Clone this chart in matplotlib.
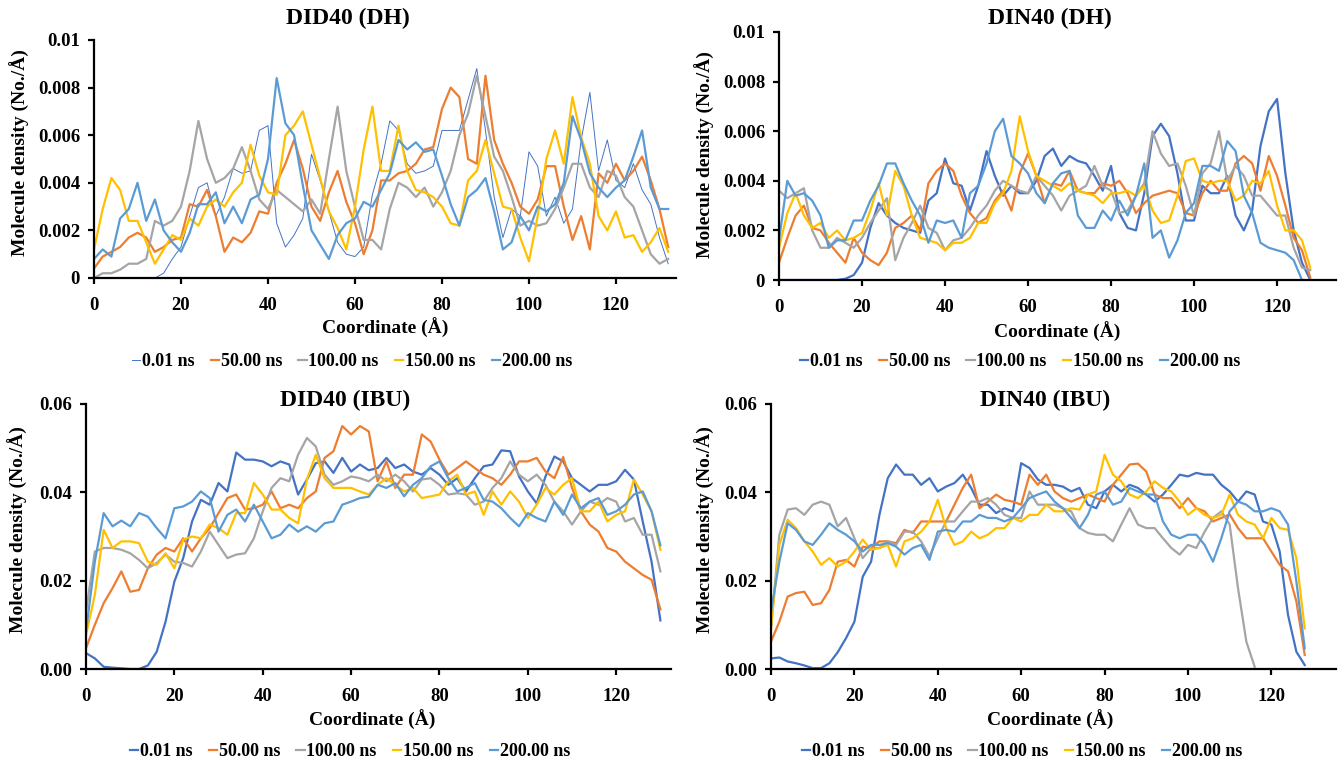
import numpy as np
import matplotlib
matplotlib.use("Agg")
from matplotlib import pyplot as plt

W, H = 1338, 764

# series names and Excel-like colours
SERIES = ["0.01 ns", "50.00 ns", "100.00 ns", "150.00 ns", "200.00 ns"]
COLORS = ["#4472C4", "#ED7D31", "#A5A5A5", "#FFC000", "#5B9BD5"]
STEP = 2  # coordinate spacing (Å) of the tabulated values

# DID40 (DH), values in 1e-3 No./Å, coordinate 0..132
did_dh_001 = [0, 0, 0, 0, 0, 0, 0, 0, 0.2, 0.8, 1.3, 2.6, 3.8, 4.0, 2.6, 3.4, 4.6, 4.4, 4.5, 6.2,
              6.4, 2.3, 1.3, 1.8, 2.5, 5.2, 4.1, 2.8, 1.5, 1.0, 0.9, 1.3, 3.5, 4.8, 6.6, 6.2, 4.8,
              4.4, 4.5, 4.7, 6.2, 6.2, 6.2, 7.5, 8.8, 6.2, 3.4, 1.7, 2.9, 2.6, 5.3, 4.7, 2.6, 3.4,
              2.3, 2.9, 5.8, 7.8, 4.5, 5.8, 4.1, 3.8, 4.8, 3.7, 3.1, 1.7, 0.6]
did_dh_050 = [0.4, 0.9, 1.1, 1.3, 1.7, 1.9, 1.7, 1.1, 1.3, 1.6, 1.7, 3.1, 3.0, 3.7, 2.6, 1.1, 1.7,
              1.5, 1.9, 2.8, 2.7, 4.0, 4.8, 5.8, 4.6, 3.0, 2.4, 3.6, 4.5, 3.2, 2.3, 1.0, 2.0, 4.1,
              4.1, 4.4, 4.5, 4.8, 5.4, 5.5, 7.1, 8.0, 7.6, 5.0, 4.8, 8.5, 5.8, 4.8, 4.0, 3.0, 2.7,
              3.3, 4.7, 4.7, 3.0, 1.6, 2.6, 1.2, 4.4, 4.0, 4.8, 4.1, 4.5, 5.1, 4.1, 2.9, 1.3]
did_dh_100 = [0.0, 0.2, 0.2, 0.35, 0.6, 0.6, 0.8, 2.4, 2.2, 2.4, 3.0, 4.5, 6.6, 5.0, 4.0, 4.2, 4.6,
              5.5, 4.5, 3.3, 2.9, 3.7, 3.4, 3.1, 2.8, 3.3, 2.7, 5.0, 7.2, 4.5, 3.0, 1.6, 1.6, 1.2,
              2.9, 4.0, 3.8, 3.4, 3.8, 3.0, 3.6, 4.5, 6.0, 6.9, 8.5, 6.8, 5.1, 4.5, 3.4, 2.2, 2.4,
              2.2, 2.3, 2.9, 3.8, 4.8, 4.8, 3.8, 3.4, 4.5, 4.3, 3.4, 3.0, 2.0, 1.0, 0.6, 0.8]
did_dh_150 = [1.2, 2.9, 4.2, 3.7, 2.4, 2.4, 1.5, 0.6, 1.2, 1.8, 1.6, 2.5, 2.2, 3.0, 3.3, 3.0, 3.6,
              4.0, 5.6, 4.3, 3.6, 3.5, 6.0, 6.4, 7.0, 5.6, 4.2, 2.8, 2.1, 1.2, 3.0, 5.4, 7.2, 4.5,
              4.5, 6.4, 4.5, 3.7, 3.6, 3.4, 3.0, 2.3, 2.2, 4.1, 4.5, 5.8, 4.4, 3.0, 2.9, 1.7, 0.7,
              2.6, 5.0, 6.2, 4.8, 7.6, 5.9, 4.8, 2.6, 2.0, 2.8, 1.7, 1.8, 1.1, 1.5, 2.1, 1.1]
did_dh_200 = [0.8, 1.2, 0.9, 2.5, 2.9, 4.0, 2.4, 3.3, 2.0, 1.5, 1.1, 1.9, 3.1, 3.1, 3.6, 2.3, 3.0,
              2.3, 3.3, 3.5, 5.0, 8.4, 6.5, 6.0, 3.9, 2.0, 1.4, 0.8, 1.8, 2.3, 2.5, 3.2, 3.0, 3.7,
              4.4, 5.8, 5.4, 5.7, 5.3, 5.4, 4.3, 3.1, 2.2, 3.4, 3.7, 4.2, 2.8, 1.2, 1.5, 2.6, 2.0,
              3.0, 2.8, 3.1, 4.0, 6.8, 5.8, 4.4, 3.8, 3.4, 3.8, 4.1, 5.1, 6.2, 3.8, 2.9, 2.9]

# DIN40 (DH), values in 1e-3 No./Å, coordinate 0..128
din_dh_001 = [0, 0, 0, 0, 0, 0, 0, 0, 0.05, 0.2, 0.7, 2.1, 3.1, 2.6, 2.3, 2.1, 2.0, 1.9, 3.2, 3.5,
              4.9, 3.9, 3.8, 2.8, 3.8, 5.2, 4.2, 3.4, 3.8, 3.5, 3.5, 4.0, 5.0, 5.3, 4.6, 5.0, 4.8,
              4.7, 4.2, 3.6, 4.6, 2.7, 2.1, 2.0, 3.5, 5.8, 6.3, 5.8, 4.3, 2.4, 2.4, 3.8, 3.5, 3.5,
              4.2, 2.6, 2.0, 2.8, 5.4, 6.8, 7.3, 4.3, 2.0, 0.7, 0.0]
din_dh_050 = [0.7, 1.7, 2.6, 3.0, 2.1, 2.0, 1.5, 1.1, 0.7, 1.7, 1.1, 0.8, 0.6, 1.1, 2.1, 2.3, 2.6,
              2.0, 3.9, 4.4, 4.7, 4.4, 3.4, 2.7, 2.3, 2.5, 3.2, 3.6, 2.8, 4.3, 5.1, 4.2, 3.1, 3.9,
              3.8, 4.4, 3.6, 3.5, 3.5, 3.9, 3.8, 4.0, 3.5, 2.7, 3.1, 3.4, 3.5, 3.6, 3.5, 2.7, 2.6,
              3.5, 4.0, 3.6, 3.6, 4.7, 5.0, 4.7, 3.6, 5.0, 4.2, 3.0, 1.7, 1.2, 0.1]
din_dh_100 = [3.6, 3.3, 3.5, 3.7, 2.0, 1.3, 1.3, 1.7, 1.5, 1.3, 1.7, 2.3, 2.8, 3.3, 0.8, 1.7, 2.3,
              3.0, 2.1, 1.9, 1.2, 1.6, 1.7, 2.1, 2.6, 3.0, 3.6, 4.0, 3.8, 3.6, 3.5, 4.2, 3.8, 3.4,
              2.8, 3.4, 3.6, 3.8, 4.6, 3.8, 3.6, 2.7, 2.8, 3.4, 3.9, 6.0, 5.1, 4.6, 4.7, 3.8, 2.6,
              4.3, 4.7, 6.0, 4.0, 4.6, 4.2, 3.4, 3.4, 3.0, 2.6, 2.6, 1.3, 0.5, 0.4]
din_dh_150 = [1.3, 2.7, 3.5, 2.6, 2.1, 2.3, 1.7, 2.0, 1.6, 1.7, 1.9, 2.8, 3.9, 2.6, 4.4, 3.8, 2.6,
              1.7, 1.6, 1.5, 1.2, 1.5, 1.5, 1.7, 2.3, 2.3, 3.1, 3.5, 4.4, 6.6, 5.2, 4.2, 4.0, 3.8,
              3.6, 3.9, 3.6, 3.5, 3.4, 3.1, 3.5, 3.5, 3.6, 3.4, 3.8, 2.8, 2.3, 2.4, 3.4, 4.8, 4.9,
              4.0, 3.9, 4.0, 4.0, 3.2, 3.4, 4.0, 3.9, 4.4, 3.0, 2.0, 2.0, 1.6, 0.5]
din_dh_200 = [1.6, 4.0, 3.4, 3.5, 3.2, 2.6, 1.3, 1.6, 1.6, 2.4, 2.4, 3.2, 3.8, 4.7, 4.7, 3.9, 3.2,
              2.6, 1.5, 2.4, 2.3, 2.4, 1.7, 3.5, 3.8, 4.7, 6.0, 6.5, 5.0, 4.7, 4.3, 3.5, 3.1, 3.9,
              4.3, 4.4, 2.6, 2.1, 2.1, 2.8, 2.4, 3.2, 2.6, 3.4, 4.7, 1.7, 2.0, 0.9, 1.6, 2.7, 3.1,
              4.6, 4.6, 4.4, 5.6, 5.2, 3.4, 2.7, 1.5, 1.3, 1.2, 1.1, 0.8, 0.0]

# DID40 (IBU), values in 1e-3 No./Å, coordinate 0..130
did_ibu_001 = [3.6, 2.4, 0.5, 0.3, 0.15, 0.0, 0.0, 0.8, 3.9, 10.7, 19.8, 25.1, 33.4, 38.3, 37.2,
               42.1, 40.2, 49.0, 47.4, 47.4, 47.0, 45.9, 47.0, 46.3, 39.5, 42.9, 46.6, 47.0, 44.4,
               47.8, 44.7, 46.3, 45.0, 45.5, 47.8, 45.5, 46.3, 44.7, 44.0, 45.5, 44.0, 41.7, 43.2,
               40.2, 43.2, 45.9, 46.3, 49.5, 49.3, 43.6, 40.2, 37.5, 43.6, 48.1, 47.0, 43.2, 41.7,
               40.2, 41.7, 41.7, 42.5, 45.1, 42.9, 33.4, 24.3, 11.0]
did_ibu_050 = [4.7, 10.0, 14.9, 18.3, 22.1, 17.5, 17.9, 22.8, 25.9, 27.4, 26.6, 29.6, 26.6, 29.6,
               31.9, 35.3, 38.7, 39.5, 36.1, 36.4, 37.2, 40.2, 36.4, 37.2, 36.4, 38.7, 40.2, 47.8,
               49.3, 55.0, 53.1, 55.0, 53.8, 42.5, 47.0, 41.0, 44.0, 44.0, 53.1, 51.5, 47.4, 44.0,
               45.5, 47.0, 45.5, 44.0, 43.2, 41.7, 44.0, 47.0, 47.0, 47.8, 44.7, 43.2, 48.0, 41.0,
               35.7, 32.7, 31.1, 27.4, 26.6, 24.3, 22.8, 21.3, 20.2, 13.5]
did_ibu_100 = [13.0, 26.6, 27.4, 27.4, 27.0, 26.2, 24.7, 22.8, 24.0, 25.9, 24.3, 24.0, 23.2, 26.6,
               31.1, 28.1, 25.1, 25.9, 26.2, 29.6, 35.7, 41.0, 43.2, 42.5, 48.5, 52.3, 50.4, 44.0,
               41.7, 42.5, 43.6, 43.2, 42.5, 44.0, 42.5, 44.0, 42.5, 40.2, 42.9, 43.2, 41.7, 39.5,
               39.8, 39.5, 37.2, 37.9, 41.0, 43.2, 47.0, 44.0, 42.5, 44.0, 41.7, 37.9, 35.7, 32.7,
               35.7, 37.9, 37.2, 38.7, 37.9, 33.4, 34.2, 30.4, 30.4, 22.1]
did_ibu_150 = [7.7, 16.8, 31.5, 27.4, 28.9, 28.9, 28.5, 24.3, 23.6, 26.2, 22.8, 29.3, 30.0, 29.6,
               32.7, 31.9, 30.4, 35.3, 35.3, 42.1, 39.5, 36.1, 36.1, 34.2, 33.0, 42.9, 48.5, 43.2,
               41.0, 41.0, 41.0, 40.2, 39.5, 41.7, 43.2, 41.7, 40.2, 41.0, 38.7, 39.1, 39.5, 42.5,
               44.0, 39.5, 40.2, 34.9, 40.2, 37.2, 40.2, 37.9, 34.2, 37.2, 41.0, 39.5, 41.7, 43.2,
               35.7, 35.7, 37.9, 33.4, 34.9, 35.7, 42.9, 39.5, 35.7, 27.0]
did_ibu_200 = [8.5, 24.3, 35.3, 32.3, 33.6, 32.3, 35.3, 34.5, 31.9, 29.6, 36.4, 36.8, 37.9, 40.2,
               38.7, 31.1, 34.9, 36.1, 33.4, 37.2, 33.4, 29.6, 30.4, 32.7, 31.1, 32.3, 31.1, 33.0,
               33.4, 37.2, 37.9, 38.7, 39.0, 41.7, 41.0, 42.1, 39.1, 41.7, 43.2, 45.9, 47.0, 43.2,
               40.2, 41.0, 42.1, 38.3, 37.9, 36.4, 34.2, 32.3, 35.3, 34.2, 33.4, 37.9, 34.9, 39.5,
               36.4, 37.9, 38.7, 34.9, 35.7, 37.2, 39.5, 40.2, 35.7, 28.0]

# DIN40 (IBU), values in 1e-3 No./Å, coordinate 0..128
din_ibu_001 = [2.4, 2.6, 1.7, 1.3, 0.8, 0.2, 0.2, 1.3, 3.8, 7.0, 10.7, 20.9, 24.3, 34.9, 43.2,
               46.3, 44.0, 44.0, 41.7, 43.2, 40.2, 41.3, 42.1, 44.0, 41.0, 37.2, 37.2, 35.3, 36.4,
               35.7, 46.6, 45.5, 42.9, 41.7, 41.7, 41.3, 40.2, 41.0, 37.2, 36.4, 40.2, 41.7, 40.2,
               41.7, 41.0, 39.5, 37.9, 39.5, 41.7, 44.0, 43.6, 44.4, 44.0, 44.0, 41.7, 40.2, 37.9,
               40.2, 39.5, 33.4, 32.7, 26.6, 12.2, 3.9, 0.9]
din_ibu_050 = [6.2, 10.7, 16.4, 17.2, 17.5, 14.5, 14.9, 17.9, 24.3, 24.7, 23.2, 27.7, 27.4, 28.9,
               28.9, 28.5, 31.5, 30.8, 33.4, 33.4, 33.4, 33.4, 37.2, 41.0, 44.0, 36.4, 37.9, 39.5,
               38.3, 37.9, 37.2, 44.0, 41.7, 44.0, 40.2, 38.7, 37.9, 38.7, 39.5, 38.7, 37.9, 41.7,
               44.0, 46.3, 46.5, 44.7, 39.5, 38.7, 38.7, 36.4, 38.7, 36.4, 35.7, 33.4, 34.2, 35.0,
               31.9, 29.6, 29.6, 29.6, 26.6, 23.6, 22.1, 15.3, 3.2]
din_ibu_100 = [9.2, 30.4, 36.1, 36.4, 34.9, 37.2, 37.9, 37.2, 32.3, 34.2, 29.6, 25.1, 27.4, 27.4,
               28.9, 28.1, 31.1, 31.1, 28.9, 25.5, 29.6, 33.4, 33.4, 35.7, 37.9, 37.9, 38.7, 37.2,
               34.9, 34.2, 34.2, 40.2, 37.2, 37.2, 37.2, 36.4, 35.7, 31.9, 30.8, 30.4, 30.4, 28.9,
               32.7, 36.4, 32.7, 31.9, 31.9, 29.6, 27.4, 25.9, 28.1, 27.4, 31.1, 34.2, 35.7, 32.7,
               18.3, 6.2, 0.5]
din_ibu_150 = [9.2, 28.1, 33.8, 31.9, 28.9, 26.6, 23.6, 25.1, 23.2, 24.3, 26.6, 29.3, 27.0, 27.4,
               28.1, 23.2, 28.9, 29.6, 31.1, 33.4, 38.3, 31.9, 28.1, 28.9, 31.1, 29.6, 30.4, 31.9,
               31.9, 34.2, 33.4, 34.9, 34.9, 37.2, 35.7, 35.7, 36.4, 36.1, 39.5, 40.2, 48.5, 44.0,
               42.5, 39.5, 38.7, 40.2, 42.5, 41.0, 40.2, 37.9, 34.9, 36.4, 34.9, 34.2, 34.9, 39.5,
               34.9, 33.4, 32.7, 29.6, 34.2, 31.9, 31.5, 25.1, 9.2]
din_ibu_200 = [13.0, 24.3, 33.0, 31.5, 28.9, 28.1, 30.4, 33.0, 31.5, 30.4, 28.9, 26.6, 28.1, 28.1,
               28.5, 27.7, 25.9, 27.4, 28.1, 24.7, 31.1, 31.5, 31.1, 33.4, 33.4, 34.9, 34.2, 34.2,
               33.4, 34.2, 36.4, 38.7, 39.5, 40.2, 37.9, 36.4, 34.2, 31.9, 34.9, 39.5, 40.2, 37.2,
               37.9, 41.0, 40.2, 39.5, 39.5, 33.4, 30.4, 29.6, 30.4, 30.4, 28.1, 24.3, 29.6, 35.7,
               37.9, 37.2, 35.7, 35.7, 36.4, 35.7, 32.7, 19.8, 4.7]

PANELS = [
    dict(title="DID40 (DH)", data=[did_dh_001, did_dh_050, did_dh_100, did_dh_150, did_dh_200],
         box=(94, 40, 676, 278), xmax=133.8, ymax=0.01, yticks=[0, 0.002, 0.004, 0.006, 0.008, 0.01],
         ylabels=["0", "0.002", "0.004", "0.006", "0.008", "0.01"],
         title_xy=(348, 18), ylab_xy=(20, 153), xlab_xy=(385, 328), leg_xy=(352, 362), thin_first=True),
    dict(title="DIN40 (DH)", data=[din_dh_001, din_dh_050, din_dh_100, din_dh_150, din_dh_200],
         box=(779, 32, 1336, 280), xmax=134.2, ymax=0.01, yticks=[0, 0.002, 0.004, 0.006, 0.008, 0.01],
         ylabels=["0", "0.002", "0.004", "0.006", "0.008", "0.01"],
         title_xy=(1050, 18), ylab_xy=(705, 155), xlab_xy=(1057, 332), leg_xy=(1020, 362), thin_first=False),
    dict(title="DID40 (IBU)", data=[did_ibu_001, did_ibu_050, did_ibu_100, did_ibu_150, did_ibu_200],
         box=(86, 404, 671, 669), xmax=132.4, ymax=0.06, yticks=[0, 0.02, 0.04, 0.06],
         ylabels=["0.00", "0.02", "0.04", "0.06"],
         title_xy=(345, 400), ylab_xy=(18, 530), xlab_xy=(372, 720), leg_xy=(350, 752), thin_first=False),
    dict(title="DIN40 (IBU)", data=[din_ibu_001, din_ibu_050, din_ibu_100, din_ibu_150, din_ibu_200],
         box=(771, 404, 1336, 669), xmax=135.5, ymax=0.06, yticks=[0, 0.02, 0.04, 0.06],
         ylabels=["0.00", "0.02", "0.04", "0.06"],
         title_xy=(1045, 400), ylab_xy=(705, 530), xlab_xy=(1050, 720), leg_xy=(1022, 752), thin_first=False),
]

FONT = "Liberation Serif"


def fx(px):
    return px / W


def fy(py):
    return 1 - py / H


fig = plt.figure(figsize=(W / 100, H / 100), dpi=100)
fig.patch.set_facecolor("white")

for p in PANELS:
    l, t, r, b = p["box"]
    ax = fig.add_axes([fx(l), fy(b), (r - l) / W, (b - t) / H])
    handles = []
    for i, vals in enumerate(p["data"]):
        x = np.arange(len(vals)) * STEP
        y = np.array(vals) * 1e-3
        lw = 0.7 if (i == 0 and p["thin_first"]) else 1.6
        h, = ax.plot(x, y, color=COLORS[i], lw=lw, solid_joinstyle="round")
        handles.append(h)
    ax.set_xlim(0, p["xmax"])
    ax.set_ylim(0, p["ymax"])
    ax.set_xticks([0, 20, 40, 60, 80, 100, 120])
    ax.set_yticks(p["yticks"])
    ax.set_yticklabels(p["ylabels"])
    for s in ["top", "right"]:
        ax.spines[s].set_visible(False)
    for s in ["left", "bottom"]:
        ax.spines[s].set_linewidth(1.6)
    ax.tick_params(axis="both", direction="out", length=4, width=1.6, labelsize=13.5, pad=10)
    ax.tick_params(axis="y", pad=6)
    for lab in ax.get_xticklabels() + ax.get_yticklabels():
        lab.set_fontfamily(FONT)
        lab.set_fontweight("bold")

    fig.text(fx(p["title_xy"][0]), fy(p["title_xy"][1]), p["title"], ha="center", va="center",
             fontsize=17, fontweight="bold", family=FONT)
    fig.text(fx(p["ylab_xy"][0]), fy(p["ylab_xy"][1]), "Molecule density (No./Å)", ha="center",
             va="center", rotation=90, fontsize=14, fontweight="bold", family=FONT)
    fig.text(fx(p["xlab_xy"][0]), fy(p["xlab_xy"][1]), "Coordinate (Å)", ha="center", va="center",
             fontsize=14, fontweight="bold", family=FONT)
    fig.legend(handles, SERIES, loc="center", bbox_to_anchor=(fx(p["leg_xy"][0]), fy(p["leg_xy"][1])),
               ncol=5, frameon=False, handlelength=0.45, handletextpad=0.1, columnspacing=0.9,
               prop={"family": FONT, "weight": "bold", "size": 13})

fig.savefig("out.png", dpi=100)
